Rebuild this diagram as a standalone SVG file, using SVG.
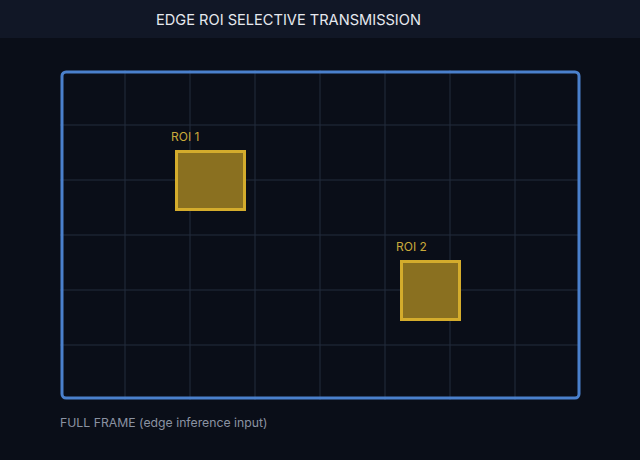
<svg xmlns="http://www.w3.org/2000/svg" width="640" height="460" viewBox="0 0 640 460">
<style>
.grid line{stroke:#232c3c;stroke-width:1}
.roi{fill:#8a7020;stroke:#d4ac2c;stroke-width:3}
.lbl{font-family:Inter,"Liberation Sans",sans-serif;font-size:12px;fill:#c9a93a}
</style>
<rect width="640" height="460" fill="#0a0e18"/>
<rect width="640" height="38" fill="#111726"/>
<text x="288.5" y="25" text-anchor="middle" font-family="Inter,'Liberation Sans',sans-serif" font-size="14.6" fill="#e6e9ef">EDGE ROI SELECTIVE TRANSMISSION</text>
<g id="grid" class="grid">
<line x1="125" y1="70" x2="125" y2="400"/><line x1="190" y1="70" x2="190" y2="400"/><line x1="255" y1="70" x2="255" y2="400"/><line x1="320" y1="70" x2="320" y2="400"/><line x1="385" y1="70" x2="385" y2="400"/><line x1="450" y1="70" x2="450" y2="400"/><line x1="515" y1="70" x2="515" y2="400"/>
<line x1="60" y1="125" x2="580" y2="125"/><line x1="60" y1="180" x2="580" y2="180"/><line x1="60" y1="235" x2="580" y2="235"/><line x1="60" y1="290" x2="580" y2="290"/><line x1="60" y1="345" x2="580" y2="345"/>
</g>
<g id="frame"><rect x="62" y="72" width="517" height="326" rx="4" fill="none" stroke="#4a80cc" stroke-width="3"/></g>
<g id="roi1"><text class="lbl" x="171" y="141">ROI 1</text><rect class="roi" x="176.5" y="151.5" width="68" height="58"/></g>
<g id="roi2"><text class="lbl" x="396" y="251">ROI 2</text><rect class="roi" x="401.5" y="261.5" width="58" height="58"/></g>
<g id="connectors"></g>
<text x="60" y="427" font-family="Inter,'Liberation Sans',sans-serif" font-size="12.25" fill="#8a92a2">FULL FRAME (edge inference input)</text>
</svg>
